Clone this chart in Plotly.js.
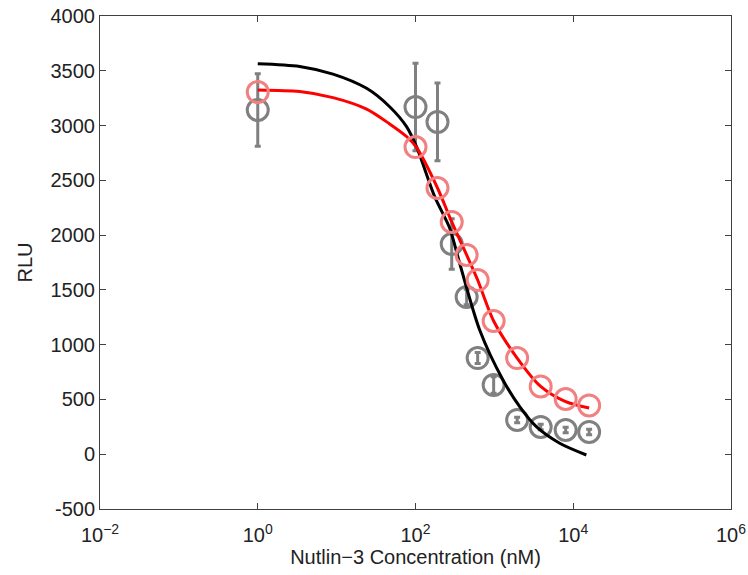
<!DOCTYPE html>
<html>
<head>
<meta charset="utf-8">
<script src="https://cdn.plot.ly/plotly-3.0.1.min.js"></script>
<style>html,body{margin:0;padding:0;background:#fff;}#chart{width:748px;height:575px;}</style>
</head>
<body>
<div id="chart"></div>
<script>
// Concentrations (nM) of the measured points
const conc = [1, 100, 190, 288, 445, 614, 979, 1945, 3864, 8015, 15900];
// Gray data (with error bars)
const grayRLU = [3142, 3169, 3033, 1919, 1435, 878, 632, 313, 249, 221, 203];
const grayErr = [330, 400, 355, 230, 70, 50, 75, 25, 25, 25, 25];
// Pink data
const pinkRLU = [3306, 2804, 2430, 2120, 1819, 1590, 1216, 878, 619, 504, 445];
// Black fitted curve
const blackX = [1, 3.4, 9, 24, 47, 77, 103, 175, 271, 363, 651, 1285, 2094, 3406, 6730, 14660];
const blackY = [3565, 3540, 3470, 3340, 3172, 2990, 2807, 2351, 2065, 1743, 1134, 678, 434, 251, 100, -7];
// Red fitted curve
const redX = [1, 3.4, 9, 24, 47, 77, 103, 190, 288, 445, 614, 979, 1945, 3864, 8015, 15900];
const redY = [3325, 3310, 3255, 3150, 3015, 2900, 2800, 2430, 2120, 1819, 1590, 1216, 878, 619, 480, 422];
// Axis ticks
const xTickVals = [0.01, 1, 100, 10000, 1000000];
const xTickText = ['10<sup>\u22122</sup>', '10<sup>0</sup>', '10<sup>2</sup>', '10<sup>4</sup>', '10<sup>6</sup>'];
const yTickVals = [-500, 0, 500, 1000, 1500, 2000, 2500, 3000, 3500, 4000];
const yTickText = ['-500', '0', '500', '1000', '1500', '2000', '2500', '3000', '3500', '4000'];

const traces = [
  {
    x: conc, y: grayRLU, type: 'scatter', mode: 'markers',
    marker: {symbol: 'circle-open', size: 21, color: '#808080', line: {width: 3, color: '#808080'}},
    error_y: {type: 'data', array: grayErr, visible: true, color: '#808080', thickness: 3, width: 3},
    showlegend: false, hoverinfo: 'skip'
  },
  {
    x: blackX, y: blackY, type: 'scatter', mode: 'lines',
    line: {color: '#000000', width: 3, shape: 'spline', smoothing: 0.8},
    showlegend: false, hoverinfo: 'skip'
  },
  {
    x: redX, y: redY, type: 'scatter', mode: 'lines',
    line: {color: '#ff0000', width: 3, shape: 'spline', smoothing: 0.8},
    showlegend: false, hoverinfo: 'skip'
  },
  {
    x: conc, y: pinkRLU, type: 'scatter', mode: 'markers',
    marker: {symbol: 'circle-open', size: 21, color: '#f28080', line: {width: 3, color: '#f28080'}},
    showlegend: false, hoverinfo: 'skip'
  }
];

const fontFam = 'Liberation Sans, Arial, sans-serif';
const layout = {
  width: 748, height: 575,
  margin: {l: 100, r: 17, t: 16, b: 66},
  paper_bgcolor: '#ffffff', plot_bgcolor: '#ffffff',
  font: {family: fontFam, size: 19, color: '#222'},
  xaxis: {
    type: 'log', range: [-2, 6],
    tickmode: 'array', tickvals: xTickVals, ticktext: xTickText,
    ticks: 'inside', ticklen: 6, tickwidth: 1, tickcolor: '#404040',
    showline: true, linecolor: '#404040', linewidth: 1, mirror: 'ticks',
    showgrid: false, zeroline: false, ticklabelstandoff: 8,
    tickfont: {family: fontFam, size: 20, color: '#222'},
    title: {text: 'Nutlin\u22123 Concentration (nM)', font: {family: fontFam, size: 20, color: '#222'}, standoff: 4}
  },
  yaxis: {
    range: [-500, 4000],
    tickmode: 'array', tickvals: yTickVals, ticktext: yTickText,
    ticks: 'inside', ticklen: 6, tickwidth: 1, tickcolor: '#404040',
    showline: true, linecolor: '#404040', linewidth: 1, mirror: 'ticks',
    showgrid: false, zeroline: false,
    tickfont: {family: fontFam, size: 20, color: '#222'},
    title: {text: 'RLU', font: {family: fontFam, size: 20, color: '#222'}, standoff: 12}
  }
};

Plotly.newPlot('chart', traces, layout, {staticPlot: true, displayModeBar: false});
</script>
</body>
</html>
